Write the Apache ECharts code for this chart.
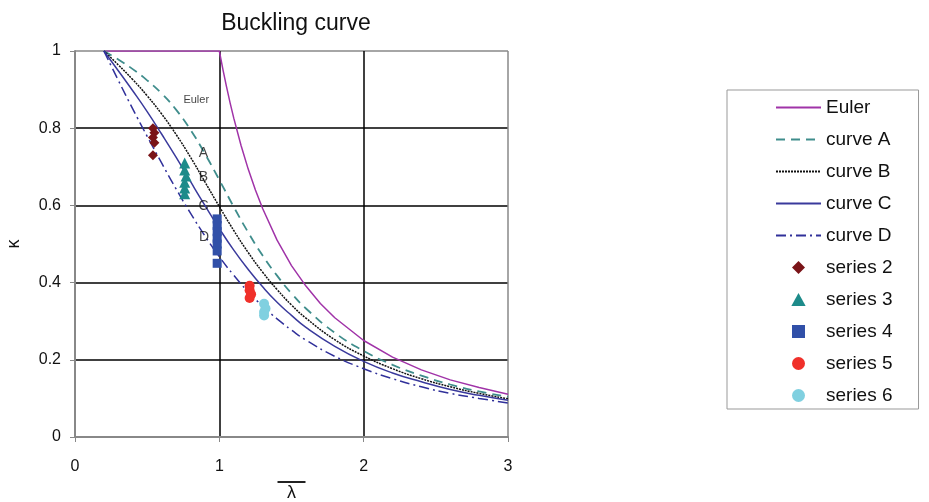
<!DOCTYPE html>
<html>
<head>
<title>Buckling curve</title>
<meta charset="utf-8">
<script type="text/javascript" src="https://cdn.jsdelivr.net/npm/echarts@6/dist/echarts.min.js"></script>
</head>
<body style="margin:0;background:#fff">
	<div id="main" style="width: 929px; height: 502px"></div>
</body>
<script>
	// slenderness values used for curves A-D
	const lamCurves = [0.2, 0.3, 0.4, 0.5, 0.6, 0.7, 0.8, 0.9, 1.0, 1.1, 1.2, 1.3, 1.4, 1.5, 1.6, 1.8, 2.0, 2.2, 2.4, 2.6, 2.8, 3.0];
	const curveA = [1.0, 0.978, 0.953, 0.924, 0.890, 0.848, 0.796, 0.734, 0.666, 0.596, 0.530, 0.470, 0.418, 0.372, 0.333, 0.270, 0.223, 0.187, 0.159, 0.136, 0.118, 0.104];
	const curveB = [1.0, 0.964, 0.926, 0.884, 0.837, 0.784, 0.725, 0.661, 0.597, 0.535, 0.478, 0.427, 0.382, 0.342, 0.308, 0.252, 0.210, 0.177, 0.151, 0.130, 0.113, 0.099];
	const curveC = [1.0, 0.949, 0.897, 0.843, 0.785, 0.725, 0.662, 0.600, 0.540, 0.484, 0.434, 0.389, 0.349, 0.315, 0.284, 0.235, 0.196, 0.166, 0.143, 0.123, 0.108, 0.095];
	const curveD = [1.0, 0.924, 0.850, 0.779, 0.710, 0.643, 0.580, 0.521, 0.467, 0.419, 0.376, 0.339, 0.306, 0.277, 0.251, 0.209, 0.177, 0.151, 0.130, 0.113, 0.100, 0.088];

	const lamEuler = [0.2, 1.0, 1.025, 1.05, 1.075, 1.1, 1.15, 1.2, 1.25, 1.3, 1.4, 1.5, 1.6, 1.7, 1.8, 2.0, 2.2, 2.4, 2.6, 2.8, 3.0];
	const euler = [1.0, 1.0, 0.952, 0.907, 0.865, 0.826, 0.756, 0.694, 0.640, 0.592, 0.510, 0.444, 0.391, 0.346, 0.309, 0.250, 0.207, 0.174, 0.148, 0.128, 0.111];

	// test points [lambda, kappa]
	const series2 = [[0.54, 0.800], [0.55, 0.788], [0.54, 0.776], [0.55, 0.762], [0.54, 0.730]];
	const series3 = [[0.76, 0.710], [0.76, 0.692], [0.77, 0.676], [0.76, 0.660], [0.76, 0.645], [0.76, 0.630]];
	const series4 = [[0.985, 0.565], [0.985, 0.548], [0.985, 0.532], [0.985, 0.515], [0.985, 0.500], [0.985, 0.482], [0.985, 0.450]];
	const series5 = [[1.21, 0.392], [1.21, 0.380], [1.22, 0.370], [1.21, 0.360]];
	const series6 = [[1.31, 0.345], [1.32, 0.333], [1.31, 0.324], [1.31, 0.315]];

	// curve labels inside the plot
	const curveLabels = [
		{ text: 'Euler', pos: [0.84, 0.873], size: 11 },
		{ text: 'A', pos: [0.89, 0.736], size: 14 },
		{ text: 'B', pos: [0.89, 0.674], size: 14 },
		{ text: 'C', pos: [0.89, 0.598], size: 14 },
		{ text: 'D', pos: [0.895, 0.518], size: 14 }
	];

	const xTicks = ['0', '1', '2', '3'];
	const yTicks = ['0', '0.2', '0.4', '0.6', '0.8', '1'];

	const lineNames = ['Euler', 'curve A', 'curve B', 'curve C', 'curve D'];
	const dotNames = ['series 2', 'series 3', 'series 4', 'series 5', 'series 6'];

	// legend shapes that keep their aspect (built-in ones get stretched)
	const dotIcons = {
		'series 2': 'path://M0,-1L1,0L0,1L-1,0Z',
		'series 3': 'path://M0,-1L1.1,1L-1.1,1Z',
		'series 4': 'path://M0,0L1,0L1,1L0,1Z',
		'series 5': 'circle',
		'series 6': 'circle'
	};

	function zip(xs, ys) {
		return xs.map(function (x, i) { return [x, ys[i]]; });
	}

	function lineSeries(name, xs, ys, color, type, width, smooth) {
		return {
			type: 'line',
			name: name,
			data: zip(xs, ys),
			symbol: 'none',
			smooth: smooth,
			lineStyle: { color: color, type: type, width: width },
			itemStyle: { color: color, opacity: 0 },
			z: 3
		};
	}

	function dotSeries(name, data, symbol, size, color) {
		return {
			type: 'scatter',
			name: name,
			data: data,
			symbol: symbol,
			symbolSize: size,
			itemStyle: { color: color, opacity: 1 },
			z: 4
		};
	}

	var chart = echarts.init(document.getElementById('main'));
	var font = 'Liberation Sans, Arial, sans-serif';

	var legendData = lineNames.map(function (n) {
		return { name: n, itemStyle: { opacity: 0 } };
	}).concat(dotNames.map(function (n) {
		return { name: n, icon: dotIcons[n] };
	}));

	var option = {
		animation: false,
		backgroundColor: '#fff',
		textStyle: { fontFamily: font },
		title: {
			text: 'Buckling curve',
			left: 291, top: 7, textAlign: 'center',
			textStyle: { fontSize: 23, fontWeight: 'normal', color: '#111', fontFamily: font }
		},
		grid: { left: 75, right: 421, top: 51, bottom: 65, outerBoundsMode: 'none' },
		legend: {
			orient: 'vertical',
			left: 727, top: 90,
			padding: [8, 26, 4, 48],
			itemGap: 13,
			itemWidth: 45,
			itemHeight: 13,
			symbolKeepAspect: true,
			borderColor: '#999',
			borderWidth: 1,
			data: legendData,
			textStyle: { fontSize: 19, color: '#111', fontFamily: font, lineHeight: 18 }
		},
		xAxis: {
			type: 'value', min: 0, max: 3, interval: 1,
			name: '{bar|}\n{l|λ}',
			nameLocation: 'middle', nameGap: 44,
			nameMoveOverlap: false,
			nameTextStyle: {
				lineHeight: 2,
				rich: {
					bar: { width: 28, height: 2, lineHeight: 2, backgroundColor: '#222', align: 'center' },
					l: { fontSize: 18, color: '#111', lineHeight: 19, padding: [1, 0, 0, 0], align: 'center' }
				}
			},
			axisLine: { lineStyle: { color: '#888', width: 2 } },
			axisTick: { show: true, length: 5, lineStyle: { color: '#888' } },
			axisLabel: { fontSize: 16, color: '#111', margin: 22, formatter: function (v) { return xTicks[Math.round(v)]; } },
			splitLine: { show: true, lineStyle: { color: ['#888', '#000', '#000', '#888'], width: 1.5 } }
		},
		yAxis: {
			type: 'value', min: 0, max: 1, interval: 0.2,
			name: 'κ', nameLocation: 'middle', nameGap: 52, nameRotate: 90,
			nameMoveOverlap: false,
			nameTextStyle: { fontSize: 18, color: '#111' },
			axisLine: { show: true, lineStyle: { color: '#888', width: 2 } },
			axisTick: { show: true, length: 5, lineStyle: { color: '#888' } },
			axisLabel: { fontSize: 16, color: '#111', margin: 14, formatter: function (v) { return yTicks[Math.round(v * 5)]; } },
			splitLine: { show: true, lineStyle: { color: ['#888', '#000', '#000', '#000', '#000', '#888'], width: 1.5 } }
		},
		series: [
			lineSeries('Euler', lamEuler, euler, '#a033a8', 'solid', 1.5, false),
			lineSeries('curve A', lamCurves, curveA, '#3f8d8c', [9, 6], 1.8, true),
			lineSeries('curve B', lamCurves, curveB, '#111', [2, 1], 1.5, true),
			lineSeries('curve C', lamCurves, curveC, '#3a3a9c', 'solid', 1.5, true),
			lineSeries('curve D', lamCurves, curveD, '#30309a', [10, 4, 2, 4], 1.5, true),
			dotSeries('series 2', series2, 'diamond', 10, '#7a1418'),
			dotSeries('series 3', series3, 'triangle', 11, '#1d8b8a'),
			dotSeries('series 4', series4, 'rect', 9, '#3150a8'),
			dotSeries('series 5', series5, 'circle', 10, '#f0302a'),
			dotSeries('series 6', series6, 'circle', 10, '#80d0e0'),
			{
				type: 'scatter',
				name: 'labels',
				symbolSize: 0,
				silent: true,
				z: 5,
				data: curveLabels.map(function (c) {
					return {
						value: c.pos,
						label: { show: true, position: 'inside', formatter: c.text, fontSize: c.size, color: '#111', fontFamily: font }
					};
				})
			}
		]
	};
	chart.setOption(option);
</script>
</html>
